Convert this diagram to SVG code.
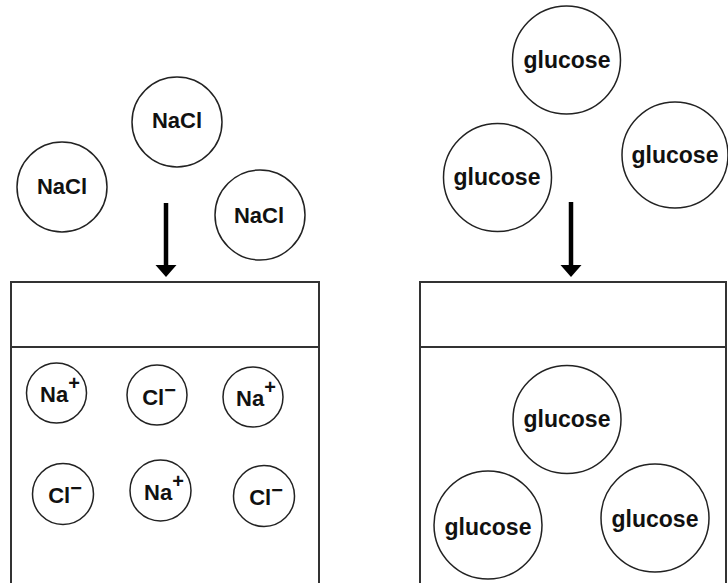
<svg xmlns="http://www.w3.org/2000/svg" width="728" height="583" viewBox="0 0 728 583">
<style>
.c{fill:none;stroke:#222;stroke-width:1.5}
.t{font-family:"Liberation Sans",Arial,sans-serif;font-weight:bold;font-size:22px;fill:#111;text-anchor:middle}
.g{font-size:23px}
.sup{font-size:20px}
.box{fill:none;stroke:#333;stroke-width:2}
.arr{stroke:#000;stroke-width:4.5;fill:none}
</style>
<defs>
<marker id="ah" markerUnits="userSpaceOnUse" viewBox="0 -11 13 22" refX="0" refY="0" markerWidth="13" markerHeight="22" orient="auto">
<path d="M0,-10.5 L12,0 L0,10.5 Z" fill="#000"/>
</marker>
</defs>
<rect width="728" height="583" fill="#fff"/>
<g id="beaker-left">
<path class="box" d="M11,583 V282 H319 V583 M11,347 H319"/>
</g>
<g id="beaker-right">
<path class="box" d="M420,583 V282 H726 V583 M420,347 H726"/>
</g>
<g id="nacl-1"><circle class="c" cx="177" cy="122" r="45"/><text class="t" x="177" y="128">NaCl</text></g>
<g id="nacl-2"><circle class="c" cx="62" cy="187" r="45"/><text class="t" x="62" y="194">NaCl</text></g>
<g id="nacl-3"><circle class="c" cx="260" cy="215" r="45"/><text class="t" x="259" y="223">NaCl</text></g>
<g id="glucose-1"><circle class="c" cx="566.5" cy="60" r="54"/><text class="t g" x="567" y="68">glucose</text></g>
<g id="glucose-2"><circle class="c" cx="497.5" cy="177.5" r="54"/><text class="t g" x="497" y="185">glucose</text></g>
<g id="glucose-3"><circle class="c" cx="675" cy="155" r="53"/><text class="t g" x="675" y="163">glucose</text></g>
<g id="ion-na-1"><circle class="c" cx="56.5" cy="393" r="30"/><text class="t" x="60" y="402">Na<tspan class="sup" dy="-12">+</tspan></text></g>
<g id="ion-cl-1"><circle class="c" cx="157" cy="395" r="30"/><text class="t" x="159" y="405">Cl<tspan class="sup" dy="-8.5">−</tspan></text></g>
<g id="ion-na-2"><circle class="c" cx="253" cy="397" r="30"/><text class="t" x="256" y="406">Na<tspan class="sup" dy="-12">+</tspan></text></g>
<g id="ion-cl-2"><circle class="c" cx="63" cy="494" r="30.5"/><text class="t" x="65" y="503">Cl<tspan class="sup" dy="-8.5">−</tspan></text></g>
<g id="ion-na-3"><circle class="c" cx="160.5" cy="490.5" r="30.5"/><text class="t" x="164" y="500">Na<tspan class="sup" dy="-12">+</tspan></text></g>
<g id="ion-cl-3"><circle class="c" cx="264" cy="496" r="30.5"/><text class="t" x="266" y="505">Cl<tspan class="sup" dy="-8.5">−</tspan></text></g>
<g id="glucose-4"><circle class="c" cx="567" cy="419.5" r="54"/><text class="t g" x="567" y="427">glucose</text></g>
<g id="glucose-5"><circle class="c" cx="488" cy="525" r="54"/><text class="t g" x="488" y="535">glucose</text></g>
<g id="glucose-6"><circle class="c" cx="655" cy="518" r="54"/><text class="t g" x="655" y="527">glucose</text></g>
<g id="connectors">
<line class="arr" x1="166" y1="203" x2="166" y2="265" marker-end="url(#ah)"/>
<line class="arr" x1="571" y1="202" x2="571" y2="265" marker-end="url(#ah)"/>
</g>
</svg>
